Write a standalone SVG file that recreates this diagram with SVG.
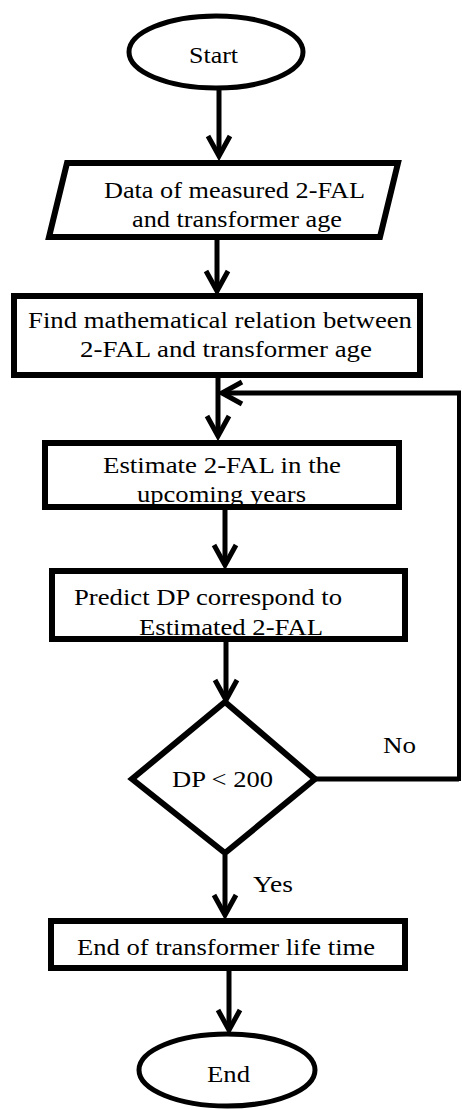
<svg xmlns="http://www.w3.org/2000/svg" width="462" height="1110" viewBox="0 0 462 1110">
<defs>
<style>
.shape{fill:#fff;stroke:#000;stroke-width:6}
.oval{fill:#fff;stroke:#000;stroke-width:5}
.conn{fill:none;stroke:#000;stroke-width:5}
.thin{fill:none;stroke:#000;stroke-width:4}
</style>
<marker id="chev" markerUnits="userSpaceOnUse" orient="auto" refX="0" refY="0" markerWidth="30" markerHeight="30" overflow="visible">
<path d="M-20,-11 L0,0 L-20,11" fill="none" stroke="#000" stroke-width="5" stroke-linejoin="miter"/>
</marker>
</defs>
<rect width="462" height="1110" fill="#fff"/>
<g id="connectors">
<line class="conn" x1="219" y1="90" x2="219" y2="156" marker-end="url(#chev)"/>
<line class="conn" x1="217" y1="240" x2="217" y2="291" marker-end="url(#chev)"/>
<line class="conn" x1="218" y1="378" x2="218" y2="436" marker-end="url(#chev)"/>
<line class="conn" x1="225" y1="510" x2="225" y2="565" marker-end="url(#chev)"/>
<line class="conn" x1="226" y1="642" x2="226" y2="700" marker-end="url(#chev)"/>
<line class="conn" x1="225" y1="855" x2="225" y2="915" marker-end="url(#chev)"/>
<line class="conn" x1="229" y1="971" x2="229" y2="1030" marker-end="url(#chev)"/>
<polyline class="conn" points="316,779 459,779"/>
<polyline class="thin" points="459,781 459,393"/>
<polyline class="conn" points="461,393 222,393" marker-end="url(#chev)"/>
<g font-family="Liberation Serif, serif" font-size="24" fill="#000">
<text x="383" y="753" textLength="33" lengthAdjust="spacingAndGlyphs">No</text>
<text x="253" y="892" textLength="40" lengthAdjust="spacingAndGlyphs">Yes</text>
</g>
</g>
<g id="start" font-family="Liberation Serif, serif" font-size="24">
<ellipse class="oval" cx="216" cy="52" rx="87" ry="36"/>
<text x="189" y="63" textLength="49" lengthAdjust="spacingAndGlyphs">Start</text>
</g>
<g id="data" font-family="Liberation Serif, serif" font-size="24">
<polygon class="shape" points="67,163 398,163 380,237 49,237"/>
<text x="104" y="198" textLength="261" lengthAdjust="spacingAndGlyphs">Data of measured 2-FAL</text>
<text x="132" y="227" textLength="210" lengthAdjust="spacingAndGlyphs">and transformer age</text>
</g>
<g id="find" font-family="Liberation Serif, serif" font-size="24">
<rect class="shape" x="14" y="296" width="406" height="79"/>
<text x="28" y="328" textLength="384" lengthAdjust="spacingAndGlyphs">Find mathematical relation between</text>
<text x="80" y="357" textLength="292" lengthAdjust="spacingAndGlyphs">2-FAL and transformer age</text>
</g>
<g id="estimate" font-family="Liberation Serif, serif" font-size="24">
<rect class="shape" x="45" y="443" width="354" height="64"/>
<text x="103" y="473" textLength="238" lengthAdjust="spacingAndGlyphs">Estimate 2-FAL in the</text>
<text x="137" y="502" textLength="169" lengthAdjust="spacingAndGlyphs">upcoming years</text>
</g>
<g id="predict" font-family="Liberation Serif, serif" font-size="24">
<rect class="shape" x="52" y="571" width="353" height="68"/>
<text x="74" y="605" textLength="268" lengthAdjust="spacingAndGlyphs">Predict DP correspond to</text>
<text x="139" y="635" textLength="184" lengthAdjust="spacingAndGlyphs">Estimated 2-FAL</text>
</g>
<g id="decision" font-family="Liberation Serif, serif" font-size="24">
<polygon class="shape" points="225,702 315,779 225,853 132,779"/>
<text x="172" y="787" textLength="101" lengthAdjust="spacingAndGlyphs">DP &lt; 200</text>
</g>
<g id="endlife" font-family="Liberation Serif, serif" font-size="24">
<rect class="shape" x="51" y="921" width="354" height="47"/>
<text x="77" y="955" textLength="298" lengthAdjust="spacingAndGlyphs">End of transformer life time</text>
</g>
<g id="end" font-family="Liberation Serif, serif" font-size="24">
<ellipse class="oval" cx="227" cy="1070" rx="88" ry="36"/>
<text x="207" y="1082" textLength="43" lengthAdjust="spacingAndGlyphs">End</text>
</g>
</svg>
